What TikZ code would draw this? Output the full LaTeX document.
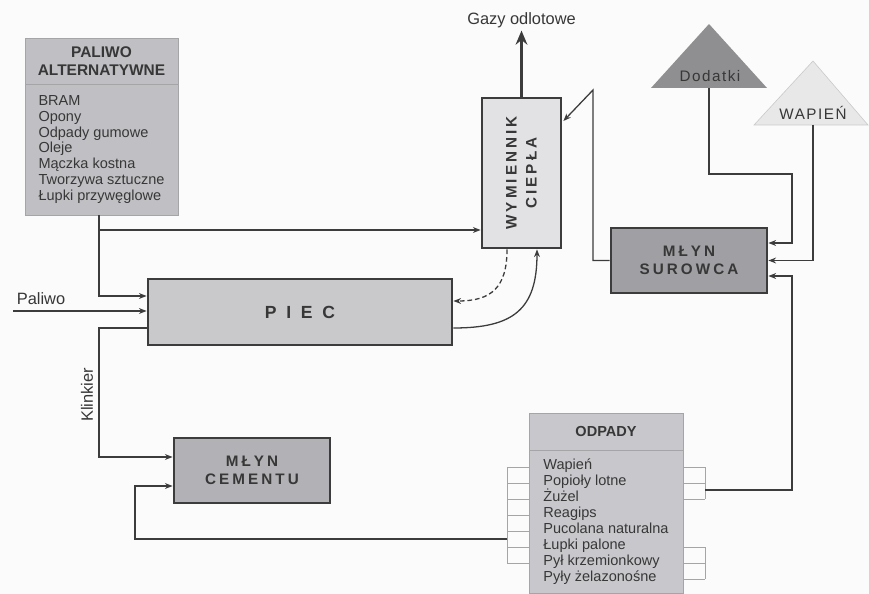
\documentclass[tikz,border=0pt]{standalone}
\usepackage{fontspec}
\setmainfont{Liberation Sans}
\newfontfamily\spacedfont[LetterSpace=20]{Liberation Sans}
\newfontfamily\widefont[LetterSpace=55]{Liberation Sans}
\newfontfamily\lightspaced[LetterSpace=10]{Liberation Sans}
\usetikzlibrary{calc,arrows.meta}

\definecolor{bggray}{RGB}{251,251,251}
\definecolor{linegray}{RGB}{60,60,60}
\definecolor{textgray}{RGB}{55,55,55}
\definecolor{framegray}{RGB}{165,165,168}
\definecolor{listfill}{RGB}{192,192,196}
\definecolor{odpfill}{RGB}{200,200,204}
\definecolor{piecfill}{RGB}{201,201,203}
\definecolor{wymfill}{RGB}{226,226,228}
\definecolor{surfill}{RGB}{160,160,164}
\definecolor{cemfill}{RGB}{178,178,182}
\definecolor{dodfill}{RGB}{143,143,145}
\definecolor{wapfill}{RGB}{232,232,232}

\begin{document}
\begin{tikzpicture}[>={Stealth[length=6.5pt, width=5pt]}, x=0.03cm, y=-0.03cm,
    flow/.style={->, draw=linegray, line width=1.1pt},
    unit/.style={draw=linegray, line width=2.4pt, inner sep=0pt},
    listbox/.style={draw=framegray, line width=0.8pt, inner sep=0pt},
    title/.style={font=\spacedfont\bfseries\fontsize{13}{15.5}\selectfont, text=textgray, align=center},
    items/.style={font=\fontsize{12.4}{13.6}\selectfont, text=textgray, align=left},
    plain/.style={font=\fontsize{14}{16}\selectfont, text=textgray},
    tick/.style={draw=framegray, line width=0.6pt}]

    % page
    \fill[bggray] (0,0) rectangle (869,594);
    \useasboundingbox (0,0) rectangle (869,594);

    % alternative fuels
    \node[listbox, fill=listfill, minimum width=4.59cm, minimum height=1.38cm,
          font=\bfseries\fontsize{13.2}{15.5}\selectfont, text=textgray, align=center] (pal-head) at (101.5,61) {PALIWO\\ALTERNATYWNE};
    \node[listbox, fill=listfill, minimum width=4.59cm, minimum height=3.93cm, items] (pal-body) at (101.5,149.5)
        {BRAM\\Opony\\Odpady gumowe\\Oleje\\Mączka kostna\\Tworzywa sztuczne\\Łupki przywęglowe};

    % process units
    \node[unit, fill=wymfill, minimum width=2.37cm, minimum height=4.5cm] (wym) at (521.5,173) {};
    \node[title, rotate=90, font=\spacedfont\bfseries\fontsize{13}{17}\selectfont] (wym-txt) at (wym) {WYMIENNIK\\CIEPŁA};
    \node[unit, fill=piecfill, minimum width=9.12cm, minimum height=1.98cm,
          font=\widefont\bfseries\fontsize{15}{18}\selectfont, text=textgray] (piec) at (300,312) {PIEC};
    \node[unit, fill=surfill, minimum width=4.68cm, minimum height=1.95cm, title] (sur) at (689,260.5) {MŁYN\\SUROWCA};
    \node[unit, fill=cemfill, minimum width=4.68cm, minimum height=1.95cm, title] (cem) at (252,470.5) {MŁYN\\CEMENTU};

    % waste list with side brackets
    \foreach \y in {467,483,...,563} {
        \draw[tick] (507,\y) -- (529,\y);
    }
    \draw[tick] (507,467) -- (507,563);
    \foreach \y in {467,483,499,547,563,579} {
        \draw[tick] (683,\y) -- (705,\y);
    }
    \draw[tick] (705,467) -- (705,499);
    \draw[tick] (705,547) -- (705,579);
    \node[listbox, fill=odpfill, minimum width=4.62cm, minimum height=1.11cm,
          font=\bfseries\fontsize{12.4}{15}\selectfont, text=textgray] (odp-head) at (606,431.5) {ODPADY};
    \node[listbox, fill=odpfill, minimum width=4.62cm, minimum height=4.29cm, items] (odp-body) at (606,521.5)
        {Wapień\\Popioły lotne\\Żużel\\Reagips\\Pucolana naturalna\\Łupki palone\\Pył krzemionkowy\\Pyły żelazonośne};

    % raw material heaps
    \fill[dodfill] (651,88) -- (709,24) -- (767,88) -- cycle;
    \node[font=\lightspaced\fontsize{13}{15}\selectfont, text=textgray] (dod) at (710,76) {Dodatki};
    \coordinate (dod-base) at (709,88);
    \filldraw[fill=wapfill, draw=framegray!60, line width=0.5pt] (754,125) -- (813,61) -- (868,125) -- cycle;
    \node[font=\lightspaced\fontsize{13}{15}\selectfont, text=textgray] (wap) at (813,113) {WAPIEŃ};
    \coordinate (wap-base) at (813,125);

    % fuel lines
    \coordinate (split) at (99,230);
    \draw[flow] (pal-body.south -| split) -- (split) -- (split -| wym.west);
    \draw[flow] (split) |- ($(piec.west)+(0,-16)$);
    \coordinate (paliwo-in) at (13,311);
    \draw[flow] (paliwo-in) -- (paliwo-in -| piec.west);
    \node[plain] (paliwo-lbl) at (41,299) {Paliwo};

    % clinker to cement mill
    \coordinate (klink) at (99,457);
    \draw[flow] ($(piec.west)+(0,16)$) -| (klink) -- (klink -| cem.west);
    \node[plain, rotate=90] (klink-lbl) at (87,395) {Klinkier};

    % waste to both mills
    \coordinate (odp-l) at (507,539);
    \coordinate (cem-back) at (135,539);
    \draw[flow] (odp-l) -- (cem-back) |- ($(cem.west)+(0,15.5)$);
    \coordinate (odp-r) at (705,490);
    \coordinate (sur-back) at (792,276);
    \draw[flow] (odp-r) -| (sur-back) -- (sur-back -| sur.east);

    % additives and limestone
    \coordinate (dod-turn) at (792,243);
    \draw[flow] (dod-base) -- ++(0,86) -| (dod-turn) -- (dod-turn -| sur.east);
    \draw[flow] (wap-base) |- (sur.east);

    % raw meal to heat exchanger
    \coordinate (ret-top) at (593,90);
    \draw[flow] (sur.west) -| (ret-top) -- ($(wym.east)+(1,-52)$);

    % kiln <-> exchanger
    \draw[flow, dash pattern=on 4pt off 2.5pt] ($(wym.south)+(-14.5,0)$) .. controls +(0,38) and +(38,0) .. ($(piec.east)+(0,-11)$);
    \draw[flow] ($(piec.east)+(0,16)$) .. controls +(60,0) and +(0,60) .. ($(wym.south)+(15.5,0)$);

    % exhaust
    \draw[-{Stealth[length=12pt, width=10pt]}, draw=linegray, line width=2.4pt] (wym.north) -- ++(0,-66)
        node[above, plain, inner sep=1pt] (gazy) {Gazy odlotowe};
\end{tikzpicture}
\end{document}
